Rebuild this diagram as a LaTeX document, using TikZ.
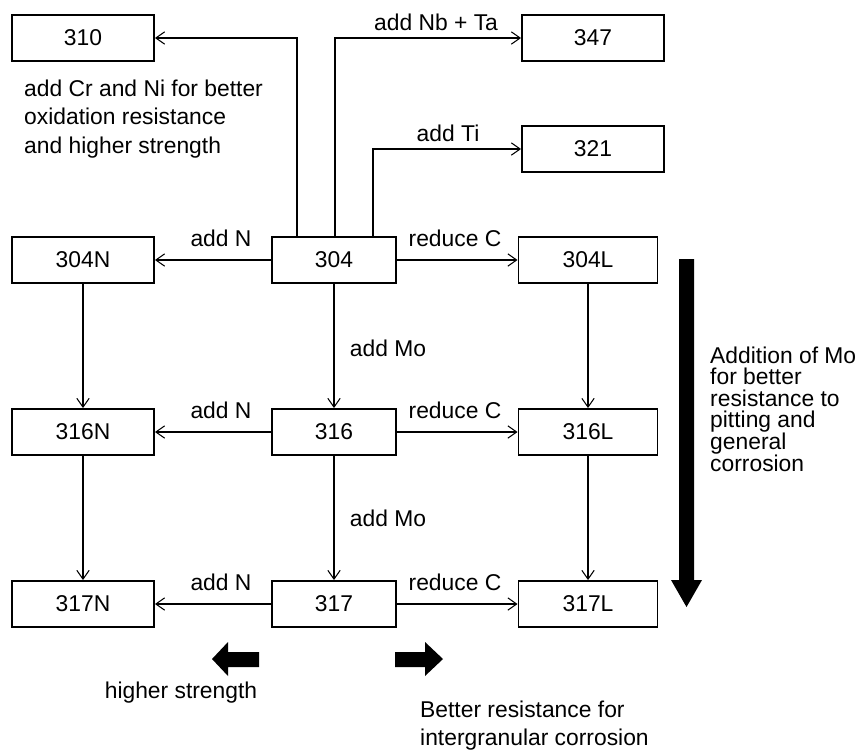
\documentclass[tikz,border=0pt]{standalone}
\usepackage{fontspec}
\setmainfont{Liberation Sans}
\usetikzlibrary{arrows.meta, positioning}

\begin{document}
\begin{tikzpicture}[
  x=0.02cm, y=-0.02cm,
  every node/.style={font=\fontsize{13}{15.6}\selectfont},
  gbox/.style={draw, line width=1.1pt, minimum width=2.84cm, minimum height=0.92cm, inner sep=0pt},
  midbox/.style={gbox, minimum width=2.48cm},
  lbox/.style={gbox, minimum width=2.78cm},
  link/.style={line width=0.6pt, -{Straight Barb[length=5pt, width=7pt]}},
  note/.style={align=left, anchor=west}
]
  \useasboundingbox (0,0) rectangle (864,751);

  \node[gbox] (g310) at (83,38) {310};
  \node[gbox] (g347) at (593,38) {347};
  \node[gbox] (g321) at (593,149) {321};

  \node[gbox] (g304N) at (83,260) {304N};
  \node[midbox] (g304) at (334,260) {304};
  \node[lbox] (g304L) at (588,260) {304L};
  \node[gbox] (g316N) at (83,432) {316N};
  \node[midbox] (g316) at (334,432) {316};
  \node[lbox] (g316L) at (588,432) {316L};
  \node[gbox] (g317N) at (83,604) {317N};
  \node[midbox] (g317) at (334,604) {317};
  \node[lbox] (g317L) at (588,604) {317L};

  \draw[link] ([xshift=-0.74cm]g304.north) |- (g310);
  \draw[link] ([xshift=0.02cm]g304.north) |- (g347);
  \draw[link] ([xshift=0.78cm]g304.north) |- (g321);

  \draw[link] (g304) -- (g304N);
  \draw[link] (g304) -- (g304L);
  \draw[link] (g316) -- (g316N);
  \draw[link] (g316) -- (g316L);
  \draw[link] (g317) -- (g317N);
  \draw[link] (g317) -- (g317L);
  \draw[link] (g304) -- (g316);
  \draw[link] (g316) -- (g317);
  \draw[link] (g304N) -- (g316N);
  \draw[link] (g316N) -- (g317N);
  \draw[link] (g304L) -- (g316L);
  \draw[link] (g316L) -- (g317L);

  \node (lNbTa) at (436,22) {add Nb + Ta};
  \node (lTi) at (448,133) {add Ti};
  \node (lN1) at (221,238) {add N};
  \node (lC1) at (455,238) {reduce C};
  \node (lMo1) at (388,348) {add Mo};
  \node (lN2) at (221,410) {add N};
  \node (lC2) at (455,410) {reduce C};
  \node (lMo2) at (388,518) {add Mo};
  \node (lN3) at (221,582) {add N};
  \node (lC3) at (455,582) {reduce C};

  \node[note, font=\fontsize{13}{16}\selectfont] (tCrNi) at (18,119) {add Cr and Ni for better\\oxidation resistance\\and higher strength};
  \node[note, font=\fontsize{13}{12.3}\selectfont] (tMo) at (704,409) {Addition of Mo\\for better\\resistance to\\pitting and\\general\\corrosion};
  \node (tStr) at (181,693) {higher strength};
  \node[note, font=\fontsize{13}{15.9}\selectfont] (tIgc) at (414,726) {Better resistance for\\intergranular corrosion};

  \fill (679,259) -- (694,259) -- (694,580) -- (702,580) -- (686.5,607) -- (671,580) -- (679,580) -- cycle;
  \fill (259,652) -- (228,652) -- (228,642) -- (212,659) -- (228,676) -- (228,667) -- (259,667) -- cycle;
  \fill (395,652) -- (425,652) -- (425,642) -- (443,659) -- (425,676) -- (425,667) -- (395,667) -- cycle;
\end{tikzpicture}
\end{document}
